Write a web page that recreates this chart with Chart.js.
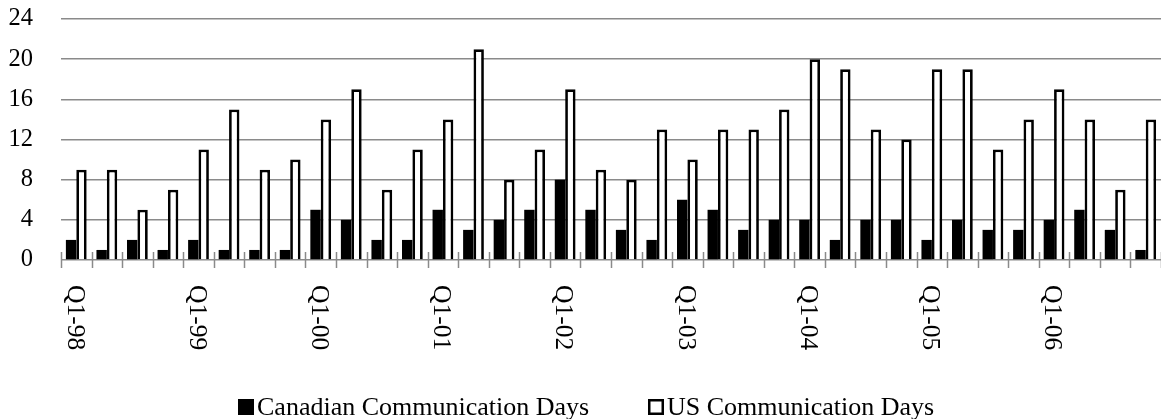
<!DOCTYPE html>
<html>
<head>
<meta charset="utf-8">
<script src="https://cdn.jsdelivr.net/npm/chart.js@4"></script>
<style>
  html, body { margin: 0; padding: 0; background: #ffffff; }
  #wrap { width: 1161px; height: 419px; position: relative; }
</style>
</head>
<body>
<div id="wrap"><canvas id="c"></canvas></div>
<script>
const categories = [
  "Q1-98","Q2-98","Q3-98","Q4-98",
  "Q1-99","Q2-99","Q3-99","Q4-99",
  "Q1-00","Q2-00","Q3-00","Q4-00",
  "Q1-01","Q2-01","Q3-01","Q4-01",
  "Q1-02","Q2-02","Q3-02","Q4-02",
  "Q1-03","Q2-03","Q3-03","Q4-03",
  "Q1-04","Q2-04","Q3-04","Q4-04",
  "Q1-05","Q2-05","Q3-05","Q4-05",
  "Q1-06","Q2-06","Q3-06","Q4-06"
];
const shownTickLabels = ["Q1-98","Q1-99","Q1-00","Q1-01","Q1-02","Q1-03","Q1-04","Q1-05","Q1-06"];
const canadianDays = [2,1,2,1, 2,1,1,1, 5,4,2,2, 5,3,4,5, 8,5,3,2, 6,5,3,4, 4,2,4,4, 2,4,3,3, 4,5,3,1];
const usDays       = [9,9,5,7, 11,15,9,10, 14,17,7,11, 14,21,8,11, 17,9,8,13, 10,13,13,15, 20,19,13,12, 19,19,11,14, 17,14,7,14];
const yTicks = [0,4,8,12,16,20,24];
const seriesNames = ["Canadian Communication Days", "US Communication Days"];

const FONT = "'Liberation Serif', 'Times New Roman', serif";
const GRID = "#8a8a8a";

const customAxisAndLegend = {
  id: 'customAxisAndLegend',
  afterDraw(chart) {
    const ctx = chart.ctx;
    const xs = chart.scales.x;
    const area = chart.chartArea;
    const n = categories.length;
    const step = (xs.right - xs.left) / n;
    ctx.save();
    // cross tick marks at category boundaries
    ctx.strokeStyle = GRID;
    ctx.lineWidth = 1.5;
    for (let i = 0; i <= n; i++) {
      const x = Math.round(xs.left + i * step) + 0.5;
      ctx.beginPath();
      ctx.moveTo(x, area.bottom - 8);
      ctx.lineTo(x, area.bottom + 8);
      ctx.stroke();
    }
    // rotated (clockwise) category labels
    ctx.fillStyle = "#000";
    ctx.font = "25.5px " + FONT;
    ctx.textAlign = 'left';
    ctx.textBaseline = 'middle';
    categories.forEach((cat, i) => {
      if (!shownTickLabels.includes(cat)) return;
      const x = xs.getPixelForValue(i) - 2;
      ctx.save();
      ctx.translate(x, area.bottom + 25);
      ctx.rotate(Math.PI / 2);
      ctx.fillText(cat, 0, 0);
      ctx.restore();
    });
    // legend
    ctx.font = "26px " + FONT;
    ctx.textBaseline = 'alphabetic';
    const items = [
      { x: 238, fill: "#000", stroke: "#000", text: chart.data.datasets[0].label },
      { x: 648, fill: "#fff", stroke: "#000", text: chart.data.datasets[1].label }
    ];
    const base = 415;
    items.forEach(it => {
      ctx.fillStyle = it.fill;
      ctx.fillRect(it.x, base - 16, 16, 16);
      ctx.strokeStyle = it.stroke;
      ctx.lineWidth = 2.5;
      ctx.strokeRect(it.x + 1.25, base - 16 + 1.25, 13.5, 13.5);
      ctx.fillStyle = "#000";
      ctx.fillText(it.text, it.x + 19, base);
    });
    ctx.restore();
  }
};

new Chart(document.getElementById('c'), {
  type: 'bar',
  data: {
    labels: categories,
    datasets: [
      {
        label: seriesNames[0],
        data: canadianDays,
        backgroundColor: "#000000",
        borderColor: "#000000",
        borderWidth: 0,
        categoryPercentage: 0.68,
        barPercentage: 1.0
      },
      {
        label: seriesNames[1],
        data: usDays,
        backgroundColor: "#ffffff",
        borderColor: "#000000",
        borderWidth: 2.75,
        categoryPercentage: 0.68,
        barPercentage: 1.0
      }
    ]
  },
  options: {
    responsive: true,
    maintainAspectRatio: false,
    animation: false,
    layout: { padding: { top: 19, right: 0, bottom: 0, left: 0 } },
    plugins: {
      legend: { display: false },
      tooltip: { enabled: false }
    },
    scales: {
      x: {
        offset: true,
        ticks: { display: false },
        grid: { display: false },
        border: { display: false },
        afterFit: (s) => { s.height = 159; s.paddingLeft = 0; s.paddingRight = 0; }
      },
      y: {
        min: 0,
        max: 24,
        afterBuildTicks: (s) => { s.ticks = yTicks.map(v => ({ value: v })); },
        ticks: {
          color: "#000",
          font: { family: FONT, size: 24.5 },
          padding: 28
        },
        grid: { color: GRID, lineWidth: 1.5, drawTicks: false },
        border: { display: false },
        afterFit: (s) => { s.width = 61; s.paddingTop = 0; s.paddingBottom = 0; }
      }
    }
  },
  plugins: [customAxisAndLegend]
});
</script>
</body>
</html>
